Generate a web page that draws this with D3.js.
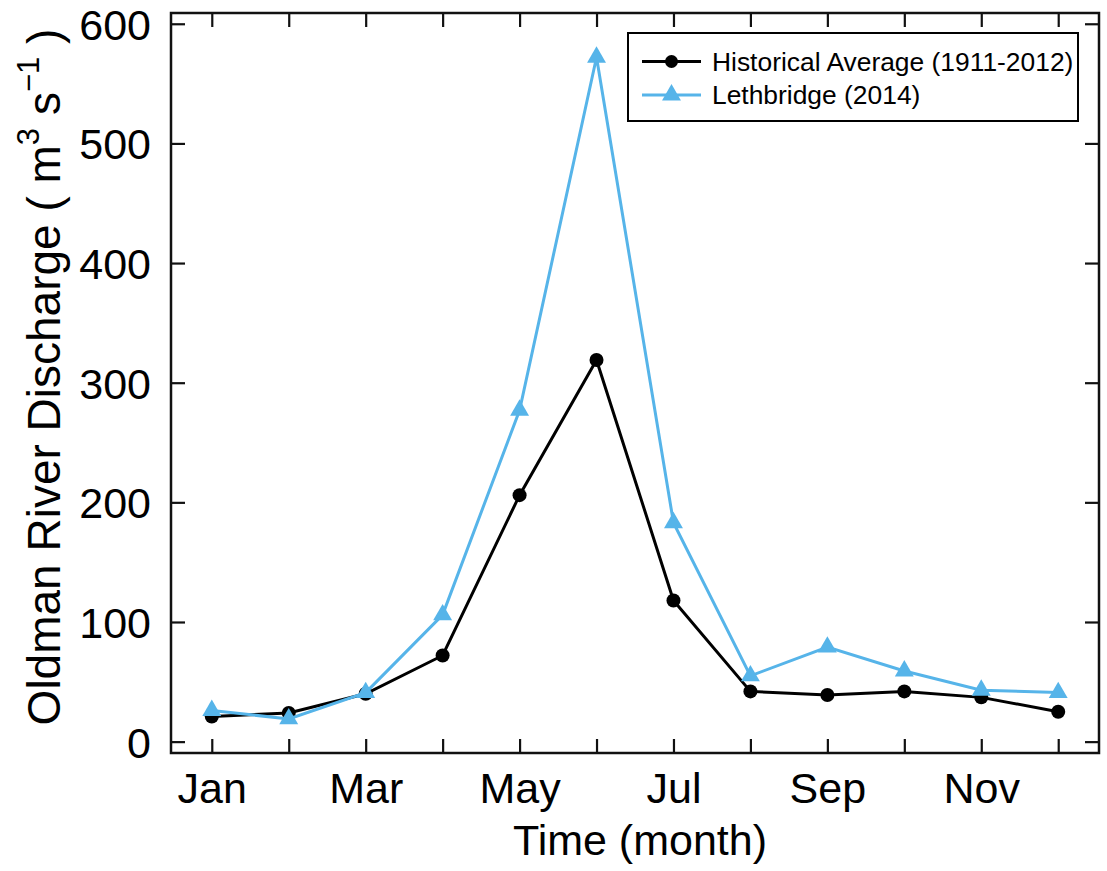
<!DOCTYPE html>
<html>
<head>
<meta charset="utf-8">
<script src="https://cdn.jsdelivr.net/npm/d3@7"></script>
<style>
  html, body { margin: 0; padding: 0; background: #fff; }
  svg { display: block; font-family: "Liberation Sans", Arial, sans-serif; }
</style>
</head>
<body>
<svg id="chart" width="1107" height="871"></svg>
<script>
// Monthly mean discharge of the Oldman River (m^3/s)
const months = [1, 2, 3, 4, 5, 6, 7, 8, 9, 10, 11, 12];
const monthLabels = ["Jan", "Feb", "Mar", "Apr", "May", "Jun", "Jul", "Aug", "Sep", "Oct", "Nov", "Dec"];
const historical = [21, 24, 40, 72, 206, 319, 118, 42, 39, 42, 37, 25];
const lethbridge2014 = [26, 19, 41, 106, 277, 572, 183, 55, 79, 59, 43, 41];
const yTicks = [0, 100, 200, 300, 400, 500, 600];
const seriesNames = ["Historical Average (1911-2012)", "Lethbridge (2014)"];

const svg = d3.select("#chart");
const L = 171, R = 1099, T = 13, B = 753;

const x = d3.scaleLinear().domain([0.47, 12.53]).range([L, R]);
const y = d3.scaleLinear().domain([-9.5, 609]).range([B, T]);

const axisColor = "#111";
const blue = "#56B4E9";
const tickLen = 14;

// Frame axes with inward ticks on all four sides
const g = svg.append("g");
function styleAxis(sel) {
  sel.select(".domain").remove();
  sel.selectAll(".tick line").attr("stroke", axisColor).attr("stroke-width", 2.2);
  sel.selectAll("text").attr("fill", "#000").attr("font-size", 43);
}

const xBottom = g.append("g").attr("transform", `translate(0,${B})`)
  .call(d3.axisBottom(x).tickValues(months).tickSizeInner(-tickLen).tickSizeOuter(0)
    .tickFormat(d => (d % 2 === 1 ? monthLabels[d - 1] : "")).tickPadding(34));
styleAxis(xBottom);
xBottom.selectAll("text").attr("dy", 0).attr("y", 50);

const xTop = g.append("g").attr("transform", `translate(0,${T})`)
  .call(d3.axisTop(x).tickValues(months).tickSizeInner(-tickLen).tickSizeOuter(0).tickFormat(""));
styleAxis(xTop);

const yLeft = g.append("g").attr("transform", `translate(${L},0)`)
  .call(d3.axisLeft(y).tickValues(yTicks).tickSizeInner(-tickLen).tickSizeOuter(0).tickPadding(20));
styleAxis(yLeft);
yLeft.selectAll("text").attr("x", -20).attr("dy", "0.36em");

const yRight = g.append("g").attr("transform", `translate(${R},0)`)
  .call(d3.axisRight(y).tickValues(yTicks).tickSizeInner(-tickLen).tickSizeOuter(0).tickFormat(""));
styleAxis(yRight);

g.append("rect")
  .attr("x", L).attr("y", T).attr("width", R - L).attr("height", B - T)
  .attr("fill", "none").attr("stroke", axisColor).attr("stroke-width", 2.5);

// Series
const line = d3.line().x((d, i) => x(months[i])).y(d => y(d));
const triangle = d3.symbol().type(d3.symbolTriangle).size(155);

svg.append("path").datum(historical)
  .attr("d", line).attr("fill", "none").attr("stroke", "#000").attr("stroke-width", 3);
svg.append("g").selectAll("circle").data(historical).join("circle")
  .attr("cx", (d, i) => x(months[i])).attr("cy", d => y(d)).attr("r", 7).attr("fill", "#000");

svg.append("path").datum(lethbridge2014)
  .attr("d", line).attr("fill", "none").attr("stroke", blue).attr("stroke-width", 3);
svg.append("g").selectAll("path").data(lethbridge2014).join("path")
  .attr("transform", (d, i) => `translate(${x(months[i])},${y(d)})`)
  .attr("d", triangle).attr("fill", blue);

// Axis titles
svg.append("text")
  .attr("x", 640).attr("y", 855).attr("text-anchor", "middle")
  .attr("font-size", 43).attr("fill", "#000")
  .text("Time (month)");

const yTitle = svg.append("text")
  .attr("transform", `translate(60,${(T + B) / 2 - 6}) rotate(-90)`)
  .attr("text-anchor", "middle").attr("font-size", 46).attr("fill", "#000");
yTitle.append("tspan").text("Oldman River Discharge ( m");
yTitle.append("tspan").attr("font-size", 31).attr("dy", -21).text("3");
yTitle.append("tspan").attr("dy", 21).text(" s");
yTitle.append("tspan").attr("font-size", 31).attr("dy", -21).text("\u22121");
yTitle.append("tspan").attr("dy", 21).text(" )");

// Legend
const lg = svg.append("g");
lg.append("rect").attr("x", 628).attr("y", 33).attr("width", 450).attr("height", 88)
  .attr("fill", "#fff").attr("stroke", "#000").attr("stroke-width", 2);
const legendRows = [
  { name: seriesNames[0], color: "#000", marker: "circle", cy: 61.5 },
  { name: seriesNames[1], color: blue, marker: "triangle", cy: 95 }
];
legendRows.forEach(r => {
  lg.append("line").attr("x1", 642).attr("x2", 701).attr("y1", r.cy).attr("y2", r.cy)
    .attr("stroke", r.color).attr("stroke-width", 3);
  if (r.marker === "circle") {
    lg.append("circle").attr("cx", 671.5).attr("cy", r.cy).attr("r", 6.5).attr("fill", r.color);
  } else {
    lg.append("path").attr("transform", `translate(671.5,${r.cy})`).attr("d", triangle).attr("fill", r.color);
  }
  lg.append("text").attr("x", 712).attr("y", r.cy).attr("dy", "0.35em")
    .attr("font-size", 26.4).attr("fill", "#000").text(r.name);
});
</script>
</body>
</html>
